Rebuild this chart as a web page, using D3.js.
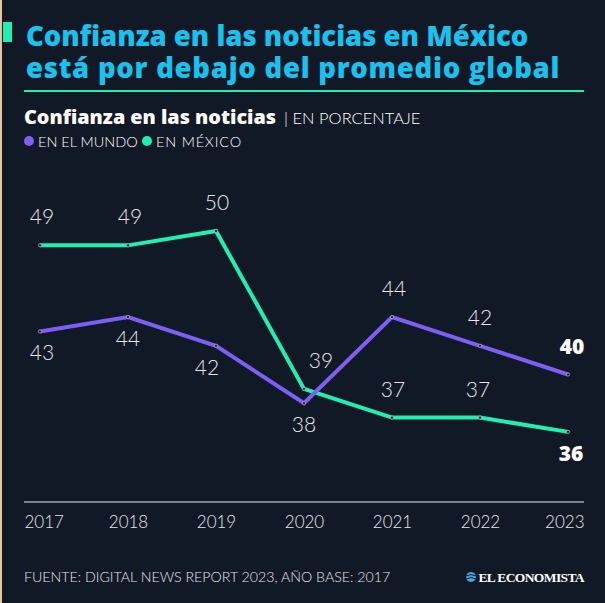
<!DOCTYPE html>
<html>
<head>
<meta charset="utf-8">
<script src="https://cdn.jsdelivr.net/npm/d3@7"></script>
<style>
  html, body { margin: 0; padding: 0; background: #121926; }
  svg { display: block; }
</style>
</head>
<body>
<script>
const years = [2017, 2018, 2019, 2020, 2021, 2022, 2023];
const mundo = [43, 44, 42, 38, 44, 42, 40];
const mexico = [49, 49, 50, 39, 37, 37, 36];
// label placement: -1 above, +1 below; dx shifts
const mundoPos = [1, 1, 1, 1, -1, -1, -1];
const mundoDx = [2, 0, -9, 0, 2, 0, 4];
const mexicoPos = [-1, -1, -1, -1, -1, -1, 1];
const mexicoDx = [2, 2, 1, 17, 1, -2, 3];

const W = 605, H = 603;
const bg = "#121926";
const cyan = "#19c1ef";
const green = "#1ff0b2";
const purple = "#7c5ff4";
const txt = "#e4e6ea";
const font = "Lato, 'Open Sans', sans-serif";
const boldFont = "'Open Sans', Lato, sans-serif";

const svg = d3.select("body").append("svg").attr("width", W).attr("height", H);
svg.append("rect").attr("width", W).attr("height", H).attr("fill", bg);
svg.append("rect").attr("x", 0).attr("y", 0).attr("width", 2).attr("height", H).attr("fill", "#e9c3a6");

// accent block
svg.append("rect").attr("x", 3).attr("y", 22).attr("width", 9).attr("height", 20).attr("fill", green);

// title
svg.append("text").attr("font-family", boldFont).attr("font-weight", 800)
  .attr("font-size", 27.5).attr("fill", cyan)
  .attr("x", 26).attr("y", 46).text("Confianza en las noticias en México");
svg.append("text").attr("font-family", boldFont).attr("font-weight", 800)
  .attr("font-size", 27.5).attr("fill", cyan).attr("letter-spacing", 0.75)
  .attr("x", 26).attr("y", 78).text("está por debajo del promedio global");

svg.append("line").attr("x1", 24).attr("x2", 584).attr("y1", 91).attr("y2", 91)
  .attr("stroke", green).attr("stroke-width", 2);

const sub = svg.append("text").attr("x", 24).attr("y", 124).attr("font-family", boldFont).attr("fill", "#ffffff");
sub.append("tspan").attr("font-weight", 800).attr("font-size", 19.8).text("Confianza en las noticias");
sub.append("tspan").attr("font-family", font).attr("font-weight", 300).attr("font-size", 16.5).attr("dx", 8).text("| EN PORCENTAJE");

// legend
const legend = [
  {label: "EN EL MUNDO", color: purple, x: 29, tx: 38, ls: 0},
  {label: "EN MÉXICO", color: green, x: 147, tx: 156, ls: 0.8}
];
legend.forEach(d => {
  svg.append("circle").attr("cx", d.x).attr("cy", 141).attr("r", 5).attr("fill", d.color);
  svg.append("text").attr("x", d.tx).attr("y", 146.5).attr("font-family", font).attr("font-weight", 300)
    .attr("font-size", 14.5).attr("fill", "#ffffff").attr("letter-spacing", d.ls).text(d.label);
});

// scales
const x = d3.scalePoint().domain(years).range([40, 568]);
const y = d3.scaleLinear().domain([30, 50]).range([518, 231]);

// axis
const axisY = 502;
const axis = d3.axisBottom(x).tickSize(0).tickPadding(0).tickFormat(d3.format("d"));
const gx = svg.append("g").attr("transform", `translate(0,${axisY})`).call(axis);
gx.select(".domain").remove();
gx.selectAll(".tick text").attr("y", 26).attr("dy", null)
  .attr("font-family", font).attr("font-weight", 300).attr("font-size", 17).attr("fill", txt);
gx.selectAll(".tick text").filter((d, i) => i === 0).attr("text-anchor", "start").attr("dx", -16);
gx.selectAll(".tick text").filter((d, i) => i === years.length - 1).attr("text-anchor", "end").attr("dx", 16);
svg.append("line").attr("x1", 24).attr("x2", 584).attr("y1", axisY).attr("y2", axisY)
  .attr("stroke", "#9aa3b0").attr("stroke-width", 1.5);

const line = d3.line().x((d, i) => x(years[i])).y(d => y(d));

function drawSeries(vals, color, pos, dxs) {
  svg.append("path").datum(vals).attr("d", line).attr("fill", "none")
    .attr("stroke", color).attr("stroke-width", 4).attr("stroke-linejoin", "miter");
  svg.selectAll(null).data(vals).enter().append("circle")
    .attr("cx", (d, i) => x(years[i])).attr("cy", d => y(d)).attr("r", 1.6)
    .attr("fill", "#1a2030").attr("stroke", "#c8c8d0").attr("stroke-width", 0.6);
  svg.selectAll(null).data(vals).enter().append("text")
    .attr("x", (d, i) => x(years[i]) + dxs[i])
    .attr("y", (d, i) => y(d) + (pos[i] < 0 ? -21 : 29))
    .attr("text-anchor", "middle")
    .attr("font-family", (d, i) => i === vals.length - 1 ? boldFont : font)
    .attr("font-weight", (d, i) => i === vals.length - 1 ? 800 : 300)
    .attr("font-size", 21)
    .attr("fill", (d, i) => i === vals.length - 1 ? "#ffffff" : txt)
    .text(d => d);
}
drawSeries(mexico, green, mexicoPos, mexicoDx);
drawSeries(mundo, purple, mundoPos, mundoDx);

// footer
svg.append("text").attr("x", 24).attr("y", 582).attr("font-family", font).attr("font-weight", 300)
  .attr("font-size", 14.2).attr("fill", txt).text("FUENTE: DIGITAL NEWS REPORT 2023, AÑO BASE: 2017");

// logo
svg.append("circle").attr("cx", 471).attr("cy", 577).attr("r", 5).attr("fill", "#3fa9e0");
svg.append("path").attr("d", "M466,576 Q471,573 476,576 M466,579 Q471,576 476,579")
  .attr("stroke", "#121926").attr("stroke-width", 1).attr("fill", "none");
svg.append("text").attr("x", 584).attr("y", 582).attr("text-anchor", "end")
  .attr("font-family", "'Liberation Serif', 'DejaVu Serif', serif").attr("font-weight", 700)
  .attr("font-size", 13.5).attr("fill", "#ffffff").attr("letter-spacing", -0.6).text("EL ECONOMISTA");
</script>
</body>
</html>
